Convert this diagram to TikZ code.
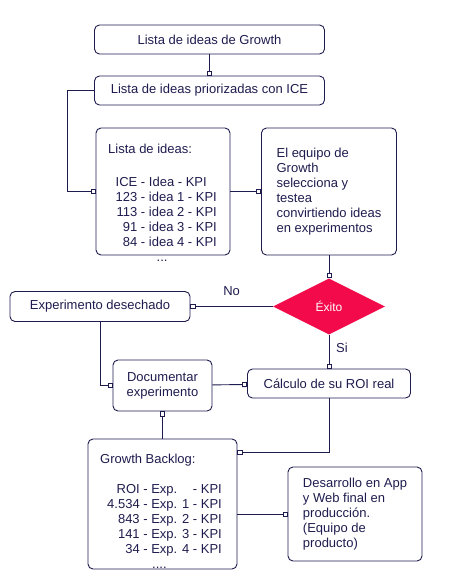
\documentclass[tikz,border=0pt]{standalone}
\usepackage{fontspec}
\setmainfont{Liberation Sans}
\usepackage{tikz}
\usetikzlibrary{calc, positioning, arrows.meta, shapes.geometric}
\definecolor{ink}{HTML}{1E1C4E}
\definecolor{rojo}{HTML}{F20A4B}
\tikzstyle{box}=[draw=ink, line width=0.9pt, rounded corners=5pt, inner sep=0pt, text=ink, font=\fontsize{13}{15}\selectfont]
\tikzstyle{lst}=[inner sep=0pt, anchor=north west, text=ink, font=\fontsize{13}{15}\selectfont]
\tikzstyle{lbl}=[inner sep=0pt, text=ink, font=\fontsize{13}{15}\selectfont]
\tikzstyle{lnk}=[draw=ink, line width=0.9pt, ->]
\tikzset{>={Square[length=5pt, width=5pt, fill=white]}}

\begin{document}
\begin{tikzpicture}[x=1pt, y=-1pt]
\useasboundingbox (0,0) rectangle (464,577);

\node[box, minimum width=230pt, minimum height=29pt] (growth) at (209.5,39.5) {Lista de ideas de Growth};
\node[box, minimum width=230pt, minimum height=29pt] (ice) at (209.5,90.5) {Lista de ideas priorizadas con ICE};
\node[box, minimum width=134pt, minimum height=127pt] (ideas) at (163,191.5) {};
\node[lst] (ideastxt) at (115.5,142.5) {\begin{tabular}{@{}r@{ - }l@{}}
\multicolumn{2}{@{\hspace{-7.5pt}}l@{}}{Lista de ideas:}\\
\multicolumn{2}{l}{}\\[3pt]
ICE & Idea - KPI\\
123 & idea 1 - KPI\\
113 & idea 2 - KPI\\
91 & idea 3 - KPI\\
84 & idea 4 - KPI\\
\multicolumn{2}{@{\hspace{41pt}}l@{}}{...}
\end{tabular}};
\node[box, minimum width=135pt, minimum height=127pt, align=left] (equipo) at (329,191.5) {El equipo de\\Growth\\selecciona y\\testea\\convirtiendo ideas\\en experimentos};
\node[diamond, aspect=2, fill=rojo, minimum width=112pt, minimum height=56pt, inner sep=0pt, text=white, font=\fontsize{12}{14}\selectfont] (exito) at (329,306.5) {Éxito};
\node[box, minimum width=180pt, minimum height=30pt] (desechado) at (100,306.5) {Experimento desechado};
\node[box, minimum width=99pt, minimum height=51pt, align=center] (documentar) at (162.5,385.5) {Documentar\\experimento};
\node[box, minimum width=163pt, minimum height=29pt] (calculo) at (329,383.5) {Cálculo de su ROI real};
\node[box, minimum width=149pt, minimum height=130pt] (backlog) at (162.5,504) {};
\node[lst] (backlogtxt) at (107,453) {\begin{tabular}{@{}r@{ - }l@{ - }l@{}}
\multicolumn{3}{@{\hspace{-7pt}}l@{}}{Growth Backlog:}\\
\multicolumn{3}{l}{}\\
ROI & Exp. & KPI\\
4.534 & Exp. 1 & KPI\\
843 & Exp. 2 & KPI\\
141 & Exp. 3 & KPI\\
34 & Exp. 4 & KPI\\
\multicolumn{3}{@{\hspace{45pt}}l@{}}{....}
\end{tabular}};
\node[box, minimum width=134pt, minimum height=94pt, align=left] (desarrollo) at (355,514) {Desarrollo en App\\y Web final en\\producción.\\(Equipo de\\producto)};

\draw[lnk] (growth) -- (ice);
\draw[lnk] (ice.west) -- ++(-27,0) |- (ideas.west);
\draw[lnk] (ideas) -- (equipo);
\draw[lnk] (equipo) -- (exito);

\draw[lnk] (exito) -- node[lbl, yshift=15pt] {No} (desechado);
\draw[lnk] (exito) -- node[lbl, pos=.4, xshift=13pt] {Si} (calculo);
\draw[lnk] (desechado.south) |- (documentar.west);
\draw[lnk] (documentar) -- (calculo);

\draw[lnk] (backlog) -- (documentar);
\draw[lnk] (calculo.south) |- ([yshift=-14pt]backlog.north east);
\draw[lnk] (backlog.east |- desarrollo.west) -- (desarrollo.west);
\end{tikzpicture}
\end{document}
